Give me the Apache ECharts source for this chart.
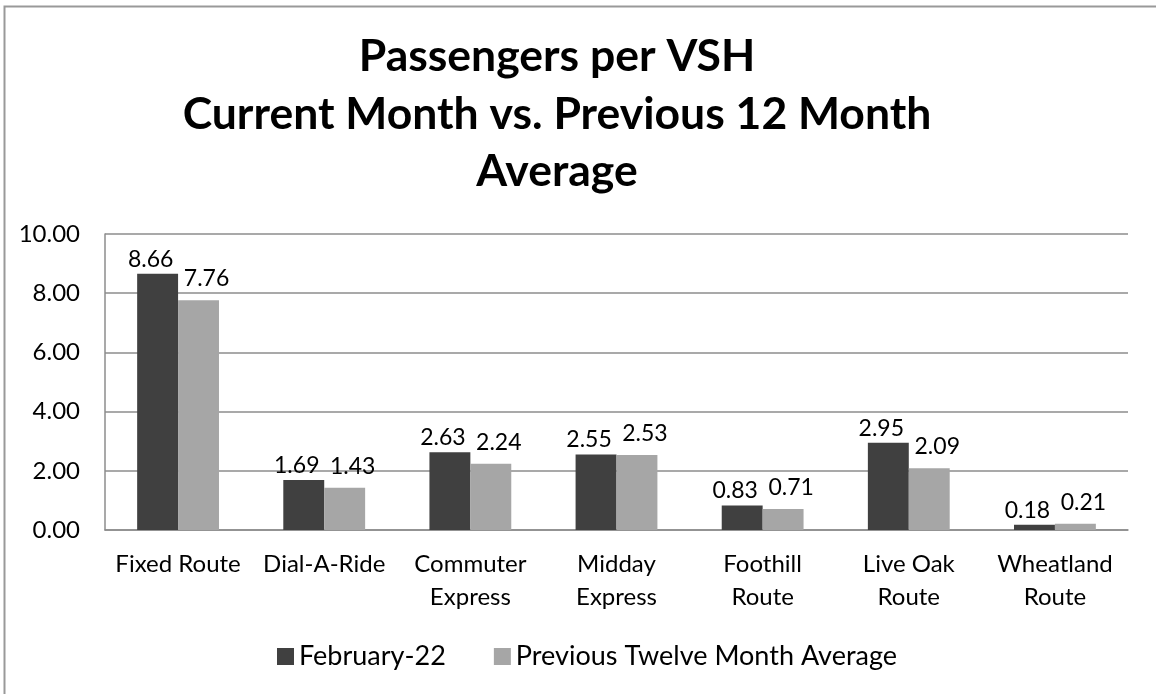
<!DOCTYPE html>
<html>
<head>
<meta charset="utf-8">
<script src="https://cdn.jsdelivr.net/npm/echarts@6/dist/echarts.min.js"></script>
<style>html,body{margin:0;padding:0;background:#fff}#c{width:1156px;height:694px}</style>
</head>
<body>
<div id="c"></div>
<script>
const titleText = 'Passengers per VSH\nCurrent Month vs. Previous 12 Month\nAverage';
const categories = ['Fixed Route', 'Dial-A-Ride', 'Commuter\nExpress', 'Midday\nExpress', 'Foothill\nRoute', 'Live Oak\nRoute', 'Wheatland\nRoute'];
const seriesNames = ['February-22', 'Previous Twelve Month Average'];
const currentMonth = [8.66, 1.69, 2.63, 2.55, 0.83, 2.95, 0.18];
const twelveMonthAvg = [7.76, 1.43, 2.24, 2.53, 0.71, 2.09, 0.21];
const yTicks = { min: 0, max: 10, interval: 2 };

const FONT = 'Lato, "Open Sans", sans-serif';
const GRID_COLOR = '#8c8c8c';

const chart = echarts.init(document.getElementById('c'), null, { renderer: 'canvas' });
chart.setOption({
  backgroundColor: '#ffffff',
  animation: false,
  title: {
    text: titleText,
    left: 552,
    top: 23,
    textAlign: 'center',
    textStyle: { fontFamily: FONT, fontWeight: 'bold', fontSize: 44.5, lineHeight: 57.5, color: '#000' }
  },
  graphic: [{
    type: 'rect', left: 2, top: 4, silent: true,
    shape: { x: 0, y: 0, width: 1300, height: 900 },
    style: { fill: 'none', stroke: '#999999', lineWidth: 2 }
  }],
  legend: {
    data: seriesNames,
    left: 272, top: 638,
    itemWidth: 17, itemHeight: 17, itemGap: 48,
    icon: 'rect',
    textStyle: { fontFamily: FONT, fontSize: 27, color: '#000', padding: [0, 0, 0, 0] }
  },
  grid: { left: 105, right: 28, top: 234, bottom: 164, containLabel: false },
  xAxis: {
    type: 'category',
    data: categories,
    axisLine: { show: true, lineStyle: { color: GRID_COLOR, width: 1.5 } },
    axisTick: { show: false },
    axisLabel: { fontFamily: FONT, fontSize: 24, color: '#000', lineHeight: 33, margin: 18, interval: 0 }
  },
  yAxis: {
    type: 'value',
    min: yTicks.min, max: yTicks.max, interval: yTicks.interval,
    axisLine: { show: true, lineStyle: { color: GRID_COLOR, width: 1.5 } },
    axisTick: { show: false },
    splitLine: { show: true, lineStyle: { color: GRID_COLOR, width: 1.5 } },
    axisLabel: { fontFamily: FONT, fontSize: 24, color: '#000', margin: 25, formatter: v => v.toFixed(2) }
  },
  series: [
    {
      name: seriesNames[0], type: 'bar', data: currentMonth,
      barGap: '0%', barCategoryGap: '44%',
      itemStyle: { color: '#404040' },
      label: { show: true, position: 'top', distance: 3, offset: [-7, 0], fontFamily: FONT, fontSize: 23, color: '#000', formatter: p => p.value.toFixed(2) }
    },
    {
      name: seriesNames[1], type: 'bar', data: twelveMonthAvg,
      barGap: '0%', barCategoryGap: '44%',
      itemStyle: { color: '#a6a6a6' },
      label: { show: true, position: 'top', distance: 3, offset: [8, -7], fontFamily: FONT, fontSize: 23, color: '#000', formatter: p => p.value.toFixed(2) }
    }
  ]
});
</script>
</body>
</html>
